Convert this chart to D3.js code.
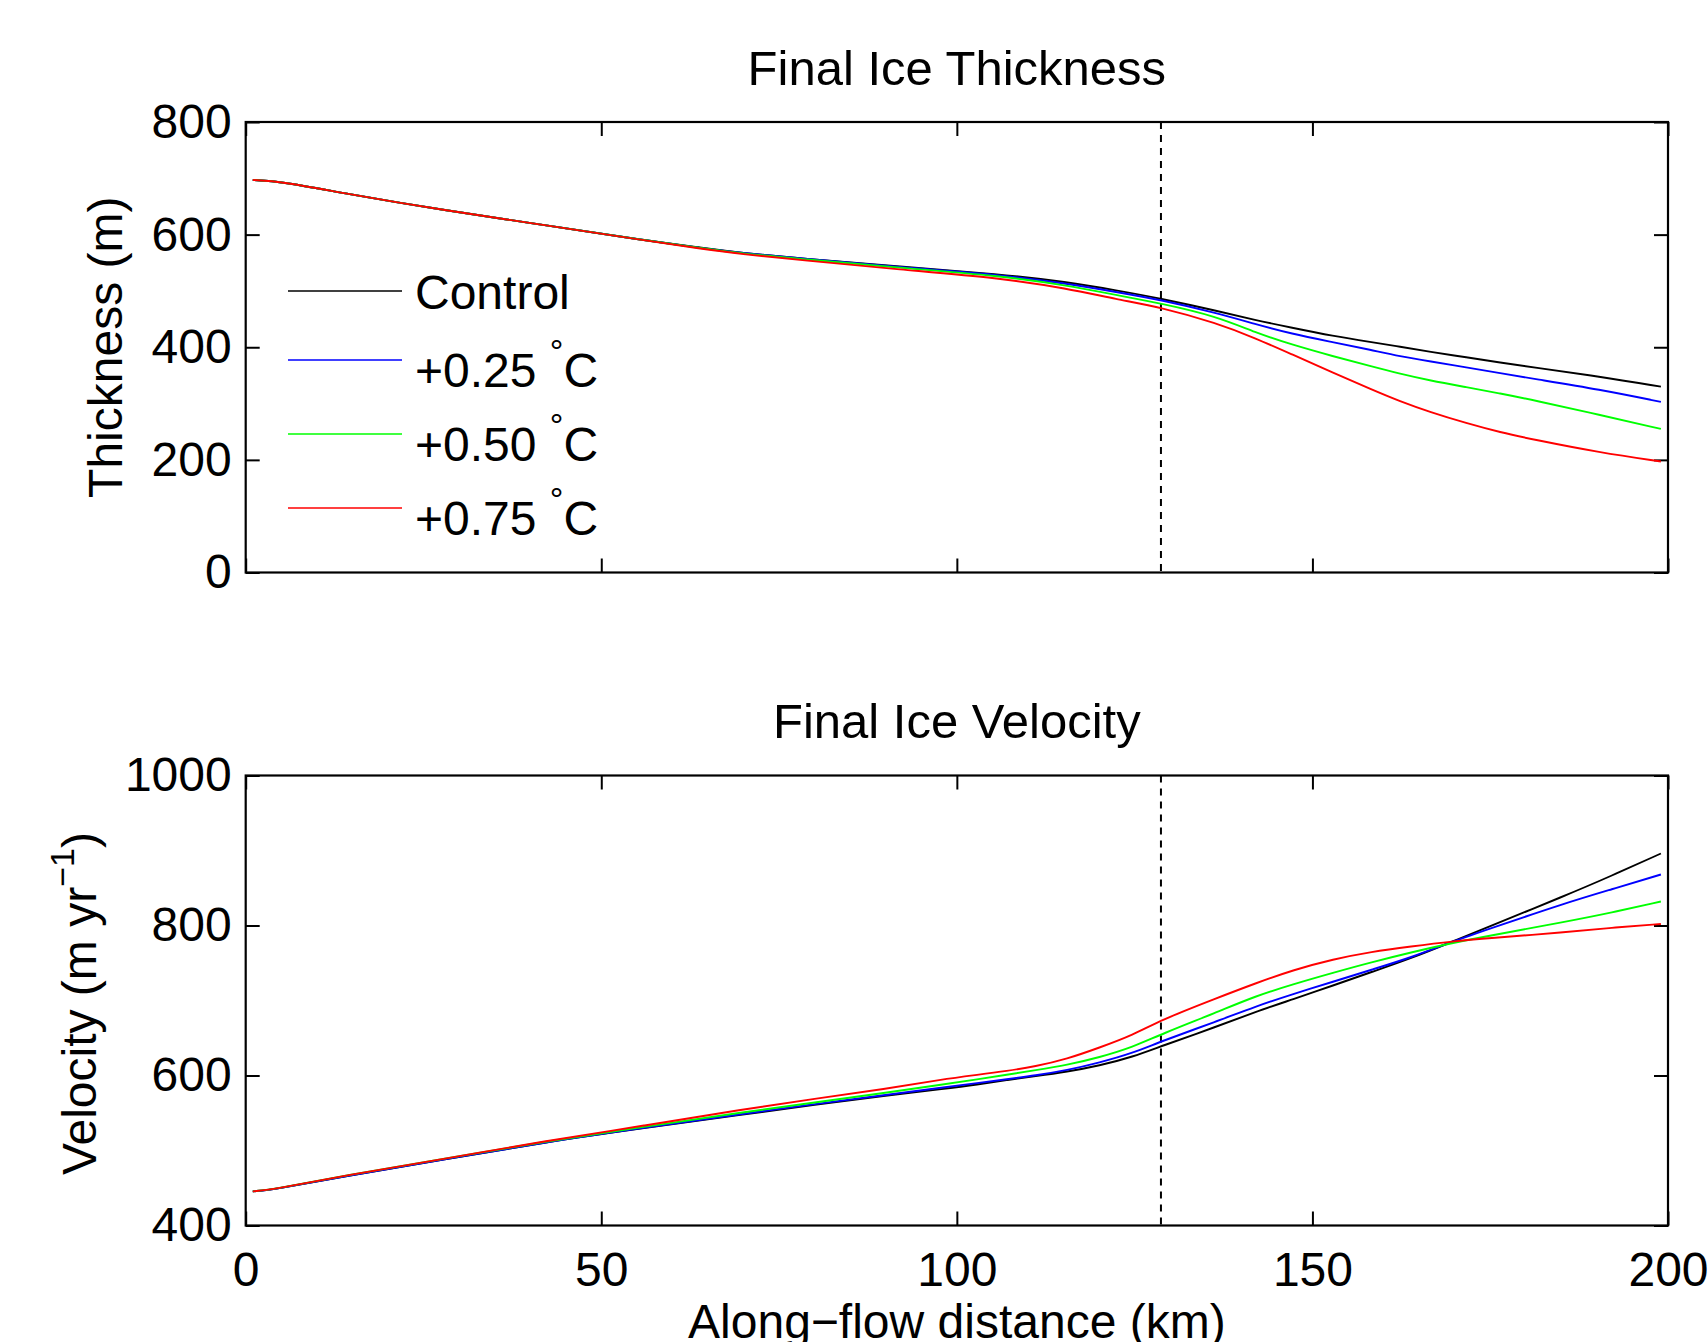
<!DOCTYPE html>
<html>
<head>
<meta charset="utf-8">
<script src="https://cdn.jsdelivr.net/npm/d3@7"></script>
<style>
body { margin: 0; background: #fff; }
text { font-family: "Liberation Sans", Arial, Helvetica, sans-serif; fill: #000; }
</style>
</head>
<body>
<div id="chart"></div>
<script>
var width = 1708;
var height = 1342;

/* thickness profiles */
var thickKm = [1, 5, 14, 28, 42, 56, 64, 70, 78, 92, 106, 115.5, 122.5, 128.7, 136.5, 142, 147, 152.9, 158.3, 162.3, 166.5, 171.7, 176.4, 181.1, 190.4, 199];
var thickControl = [697, 694.5, 673, 643, 617, 590, 577, 567, 558, 543, 530, 516, 501, 486.5, 465, 448, 435, 420, 409, 401, 392, 382, 373, 364, 348, 330];
var thick025 = [697, 694.5, 673, 643, 617, 590, 576, 567, 558, 542, 529, 513, 498, 484, 461, 441, 424, 409, 395, 384, 375, 364, 354, 344, 325, 303];
var thick050 = [697, 694.5, 673, 643, 617, 590, 576, 566, 557, 541, 527, 510, 492.5, 478, 455, 426, 405, 384, 366, 353, 341, 329, 318, 306, 280, 255];
var thick075 = [697, 694.5, 673, 643, 617, 590, 575, 565, 555, 538, 523, 504.5, 485, 471, 443, 416, 388, 355, 325, 304, 285, 265, 249, 236, 213, 197];

/* velocity profiles */
var velKm = [1, 4, 14, 28, 42, 56, 70, 80, 90, 98, 103, 107, 111, 115.5, 120, 124.8, 128.7, 136.5, 142, 147.4, 152.9, 158.3, 163.8, 169.8, 174.7, 185.6, 192, 199];
var velControl = [445.5, 448, 466, 488, 511, 530, 548, 561, 573, 582, 588, 594, 599, 605, 613, 625, 639, 665, 685, 702, 720, 738, 756, 779, 798, 840, 866, 896];
var vel025 = [445.5, 448, 466, 488, 511, 530.5, 549, 562, 574, 584, 590, 595, 600, 607, 617, 630, 645.5, 672, 692, 709, 725, 741, 757, 779, 795, 830, 848, 868];
var vel050 = [445.5, 448, 467, 489, 512, 531.5, 551, 564, 577, 588, 595, 601, 607, 614, 624, 638, 655, 684, 706, 722, 737, 751, 764, 777, 786, 805, 817, 832];
var vel075 = [445.5, 448, 467, 489, 512.5, 533, 555, 569, 582, 595, 601, 606, 612, 622, 637, 654, 674, 703, 723, 741, 755, 765, 772, 779, 783, 791, 797, 802];

var seriesNames = ["Control", "+0.25", "+0.50", "+0.75"];
var seriesColors = ["#000000", "#0000ff", "#00ff00", "#ff0000"];

var groundingLineKm = 128.7; // dashed marker

var xTicks = [0, 50, 100, 150, 200];
var thickTicks = [0, 200, 400, 600, 800];
var velTicks = [400, 600, 800, 1000];

var left = 245.7, right = 1668;
var fontSize = 48;

var xScale = d3.scaleLinear().domain([0, 200]).range([left, right]);
var yThick = d3.scaleLinear().domain([0, 800]).range([572.5, 122]);
var yVel = d3.scaleLinear().domain([400, 1000]).range([1225.5, 775.5]);

var svg = d3.select("#chart")
    .append("svg")
    .attr("width", width)
    .attr("height", height)
    .style("font-size", fontSize + "px");

function drawPanel(yScale, yTicks, km, series, title, titleY, showXLabels) {
    var top = yScale.range()[1], bottom = yScale.range()[0];
    var g = svg.append("g");

    // inward ticks on all four sides
    g.append("g").attr("transform", "translate(" + left + ",0)")
        .call(d3.axisLeft(yScale).tickValues(yTicks).tickFormat(d3.format("d"))
            .tickSize(-14).tickPadding(14).tickSizeOuter(0));
    g.append("g").attr("transform", "translate(" + right + ",0)")
        .call(d3.axisRight(yScale).tickValues(yTicks).tickSize(-14).tickFormat("").tickSizeOuter(0));
    g.append("g").attr("transform", "translate(0," + top + ")")
        .call(d3.axisTop(xScale).tickValues(xTicks).tickSize(-14).tickFormat("").tickSizeOuter(0));
    var xb = d3.axisBottom(xScale).tickValues(xTicks).tickSize(-14).tickPadding(26).tickSizeOuter(0);
    xb.tickFormat(showXLabels ? d3.format("d") : "");
    g.append("g").attr("transform", "translate(0," + bottom + ")").call(xb);

    g.selectAll(".domain").remove();
    g.selectAll(".tick line").attr("stroke", "#000").attr("stroke-width", 2);
    g.selectAll(".tick text")
        .attr("fill", "#000")
        .style("font-family", '"Liberation Sans", Arial, sans-serif')
        .style("font-size", fontSize + "px");

    // dashed marker
    g.append("line")
        .attr("x1", xScale(groundingLineKm)).attr("x2", xScale(groundingLineKm))
        .attr("y1", top).attr("y2", bottom)
        .attr("stroke", "#000")
        .attr("stroke-width", 2)
        .attr("stroke-dasharray", "7,6");

    var line = d3.line()
        .x(function (d) { return xScale(d.x); })
        .y(function (d) { return yScale(d.y); })
        .curve(d3.curveBasis);

    series.forEach(function (vals, i) {
        var pts = vals.map(function (v, j) { return {x: km[j], y: v}; });
        g.append("path")
            .attr("d", line(pts))
            .attr("fill", "none")
            .attr("stroke", seriesColors[i])
            .attr("stroke-width", 1.9);
    });

    // axes box
    g.append("rect")
        .attr("x", left).attr("y", top)
        .attr("width", right - left).attr("height", bottom - top)
        .attr("fill", "none")
        .attr("stroke", "#000")
        .attr("stroke-width", 2.2);

    g.append("text")
        .attr("x", (left + right) / 2)
        .attr("y", titleY)
        .attr("text-anchor", "middle")
        .style("font-size", "49px")
        .text(title);
    return g;
}

var topPanel = drawPanel(yThick, thickTicks, thickKm,
    [thickControl, thick025, thick050, thick075], "Final Ice Thickness", 85, false);
drawPanel(yVel, velTicks, velKm,
    [velControl, vel025, vel050, vel075], "Final Ice Velocity", 738, true);

/* y labels */
svg.append("text")
    .attr("transform", "translate(122," + ((yThick.range()[0] + yThick.range()[1]) / 2) + ") rotate(-90)")
    .attr("text-anchor", "middle")
    .text("Thickness (m)");

var vl = svg.append("text")
    .attr("transform", "translate(96," + ((yVel.range()[0] + yVel.range()[1]) / 2 + 3) + ") rotate(-90)")
    .attr("text-anchor", "middle");
vl.append("tspan").text("Velocity (m yr");
vl.append("tspan").attr("dy", -22).style("font-size", "34px").text("\u22121");
vl.append("tspan").attr("dy", 22).text(")");

/* x label, partly clipped by the bottom edge as in the original figure */
svg.append("text")
    .attr("x", (left + right) / 2)
    .attr("y", 1338)
    .attr("text-anchor", "middle")
    .text("Along\u2212flow distance (km)");

/* legend, no frame */
var legend = topPanel.append("g");
seriesNames.forEach(function (name, i) {
    var ly = i === 0 ? 291 : 360 + (i - 1) * 74;
    legend.append("line")
        .attr("x1", 288).attr("x2", 402)
        .attr("y1", ly).attr("y2", ly)
        .attr("stroke", seriesColors[i])
        .attr("stroke-width", 1.6);
    var t = legend.append("text")
        .attr("x", 415)
        .attr("y", ly + (i === 0 ? 18 : 27));
    if (i === 0) {
        t.text(name);
    } else {
        t.append("tspan").text(name + " ");
        t.append("tspan").attr("dy", -24).style("font-size", "34px").text("\u00b0");
        t.append("tspan").attr("dy", 24).text("C");
    }
});
</script>
</body>
</html>
